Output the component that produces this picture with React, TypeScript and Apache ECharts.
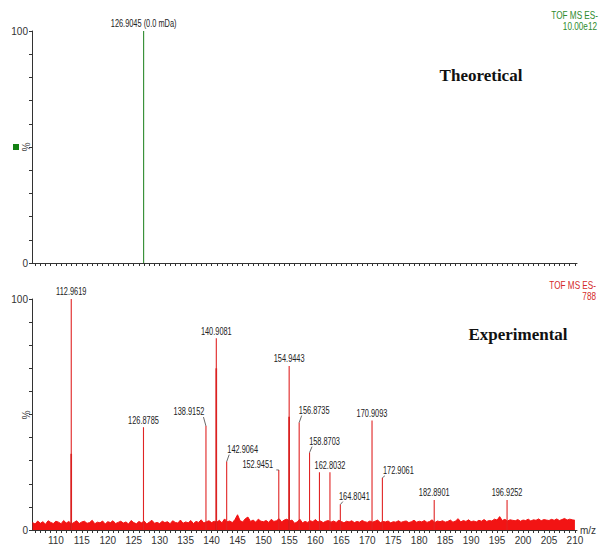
import React, { useEffect, useRef } from "react";
import * as echarts from "echarts";

// ---------- data ----------
const theoMz = [126.9045];
const theoInt = [100];
const theoLabels = ["126.9045 (0.0 mDa)"];

const expMz = [112.9619, 126.8785, 138.9152, 140.9081, 142.9064, 152.9451, 154.9443, 156.8735, 158.8703, 160.78, 162.8032, 164.8041, 170.9093, 172.9061, 182.8901, 196.9252];
const expInt = [100, 44.5, 45, 83, 29.6, 26, 71, 46.5, 33.5, 25, 25, 11, 47.4, 22.6, 13, 13];
const expLabels = ["112.9619", "126.8785", "138.9152", "140.9081", "142.9064", "152.9451", "154.9443", "156.8735", "158.8703", "", "162.8032", "164.8041", "170.9093", "172.9061", "182.8901", "196.9252"];

// overlapping (darker) lower parts of the big peaks
const shoulderMz = [112.9619, 140.9081, 154.9443];
const shoulderInt = [33, 70, 49];

// baseline noise, sampled every 0.5 m/z from 105.5
const noiseStart = 105.5;
const noiseStep = 0.5;
const noiseInt = [
  3.2, 2.6, 3.9, 2.9, 3.6, 2.5, 4.0, 3.3, 2.8, 3.8,
  3.4, 2.7, 4.1, 3.0, 3.7, 2.6, 3.3, 4.0, 2.8, 3.5,
  3.8, 2.9, 3.2, 4.2, 2.7, 3.4, 3.1, 3.9, 2.6, 3.6,
  3.2, 4.0, 2.8, 3.3, 3.8, 3.0, 3.5, 2.6, 4.1, 3.2,
  2.7, 3.7, 3.1, 3.9, 2.6, 3.4, 4.2, 2.9, 3.3, 2.8,
  3.8, 3.2, 3.6, 2.7, 4.0, 3.3, 3.0, 4.3, 2.9, 3.5,
  3.1, 4.1, 2.8, 3.7, 3.3, 4.4, 3.0, 3.6, 4.0, 3.2,
  3.8, 3.4, 4.2, 3.1, 4.8, 3.6, 3.9, 3.2, 4.5, 6.6,
  4.0, 3.5, 4.9, 5.6, 3.7, 4.3, 3.4, 4.7, 3.8, 3.6,
  4.1, 3.3, 4.6, 3.7, 4.0, 4.9, 3.5, 4.3, 4.7, 3.9,
  4.3, 2.9, 3.5, 4.7, 3.1, 3.7, 3.3, 4.0, 3.6, 4.5,
  3.5, 3.9, 3.2, 3.8, 4.1, 3.4, 3.9, 3.3, 4.2, 3.7,
  3.1, 3.8, 3.5, 4.0, 3.2, 3.7, 3.4, 4.1, 3.6, 3.3,
  3.9, 3.4, 3.8, 4.3, 3.2, 3.7, 3.5, 3.9, 3.1, 3.6,
  3.4, 4.0, 3.3, 3.7, 3.9, 3.2, 3.6, 4.2, 3.4, 3.8,
  3.5, 4.1, 3.3, 3.7, 4.4, 3.2, 3.9, 3.6, 4.0, 3.4,
  3.7, 4.3, 3.4, 3.9, 4.9, 3.5, 4.1, 3.7, 4.4, 3.6,
  3.9, 3.5, 4.2, 3.8, 4.5, 3.7, 4.1, 3.9, 4.7, 4.3,
  5.8, 4.1, 4.6, 3.9, 4.4, 4.2, 4.0, 4.5, 3.8, 4.3,
  4.1, 4.7, 3.9, 4.4, 4.2, 4.8, 4.0, 4.5, 4.3, 4.1,
  4.6, 4.2, 4.8, 4.1, 4.5, 5.0, 4.3, 4.7, 4.4, 4.2,
];

const xMin = 105.4;
const xMax = 210.4;
const xLabelValues = [110, 115, 120, 125, 130, 135, 140, 145, 150, 155, 160, 165, 170, 175, 180, 185, 190, 195, 200, 205, 210];
const yLabelValues = [0, 100];

// ---------- layout / style ----------
const SANS = "'Liberation Sans', Arial, sans-serif";
const SERIF = "'Liberation Serif', 'Times New Roman', serif";
const AXIS_COLOR = "#333";
const GREEN = "#2e8b2e";
const RED_TXT = "#d42a2a";
const PEAK_RED = "#e02424";
const CONDENSE = 0.74;

// label offsets [dx, dy] from the peak top, for labels moved aside
const labelOffsets: Record<string, [number, number]> = {
  "138.9152": [-17, -14],
  "142.9064": [16, -12],
  "152.9451": [-21, -5],
  "156.8735": [15, -12],
  "158.8703": [15, -11],
  "164.8041": [14, -8],
  "172.9061": [16, -7],
};

function xTicks(): number[] {
  const t: number[] = [];
  for (let v = 106; v <= 210; v++) t.push(v);
  return t;
}

function peakSeries(
  xAxisIndex: number,
  mz: number[],
  inten: number[],
  labels: string[],
  color: string,
  width: number
) {
  return {
    type: "custom",
    xAxisIndex,
    yAxisIndex: xAxisIndex,
    data: mz.map((m, i) => [m, inten[i], i]),
    z: 5,
    renderItem: (_params: any, api: any) => {
      const m = api.value(0);
      const v = api.value(1);
      const idx = api.value(2);
      const top = api.coord([m, v]);
      const base = api.coord([m, 0]);
      const children: any[] = [
        {
          type: "line",
          shape: { x1: top[0], y1: top[1], x2: base[0], y2: base[1] },
          style: { stroke: color, lineWidth: width },
        },
      ];
      const label = labels[idx];
      if (label) {
        const off = labelOffsets[label] || [0, -7];
        if (off[0] !== 0) {
          const s = off[0] > 0 ? 1 : -1;
          children.push({
            type: "line",
            shape: { x1: top[0], y1: top[1], x2: top[0] + s * 2.5, y2: top[1] + off[1] + 5 },
            style: { stroke: "#444", lineWidth: 0.8 },
          });
        }
        children.push({
          type: "text",
          x: top[0] + off[0],
          y: top[1] + off[1],
          scaleX: CONDENSE,
          style: {
            text: label,
            x: 0,
            y: 0,
            textAlign: "center",
            textVerticalAlign: "middle",
            fill: "#222",
            fontSize: 10,
            fontFamily: SANS,
          },
        });
      }
      return { type: "group", children };
    },
  };
}

function xAxisCfg(gridIndex: number, withLabels: boolean) {
  return {
    type: "value",
    gridIndex,
    min: xMin,
    max: xMax,
    axisLine: { show: true, onZero: false, lineStyle: { color: AXIS_COLOR, width: 1 } },
    axisTick: { show: true, customValues: xTicks(), length: 3, lineStyle: { color: AXIS_COLOR } },
    axisLabel: withLabels
      ? { show: true, customValues: xLabelValues, fontSize: 10, color: "#333", margin: 5, fontFamily: SANS }
      : { show: false },
    splitLine: { show: false },
    name: withLabels ? "m/z" : "",
    nameLocation: "end",
    nameGap: 3,
    nameTextStyle: { fontSize: 10, color: "#333", fontFamily: SANS, verticalAlign: "middle" },
  };
}

function yAxisCfg(gridIndex: number) {
  return {
    type: "value",
    gridIndex,
    min: 0,
    max: 100,
    interval: 10,
    axisLine: { show: true, onZero: false, lineStyle: { color: AXIS_COLOR, width: 1 } },
    axisTick: { show: true, length: 3, lineStyle: { color: AXIS_COLOR } },
    axisLabel: {
      fontSize: 10,
      color: "#333",
      margin: 4,
      fontFamily: SANS,
      formatter: (v: number) => (yLabelValues.includes(v) ? String(v) : ""),
    },
    splitLine: { show: false },
  };
}

function condensedText(x: number, y: number, text: string, fill: string, align: string) {
  return {
    type: "text",
    x,
    y,
    scaleX: CONDENSE + 0.04,
    style: { text, x: 0, y: 0, textAlign: align, textVerticalAlign: "middle", fill, fontSize: 10.5, fontFamily: SANS },
  };
}

export default function App() {
  const ref = useRef<HTMLDivElement>(null);

  useEffect(() => {
    if (!ref.current) return;
    const chart = echarts.init(ref.current, null, { renderer: "svg" });

    const noiseData = noiseInt.map((v, i) => [noiseStart + i * noiseStep, v]);

    const option: any = {
      animation: false,
      backgroundColor: "#fff",
      grid: [
        { left: 32, top: 31, width: 545, height: 232 },
        { left: 32, top: 299, width: 545, height: 231 },
      ],
      xAxis: [xAxisCfg(0, false), xAxisCfg(1, true)],
      yAxis: [yAxisCfg(0), yAxisCfg(1)],
      series: [
        peakSeries(0, theoMz, theoInt, theoLabels, GREEN, 1.1),
        {
          type: "line",
          xAxisIndex: 1,
          yAxisIndex: 1,
          data: noiseData,
          symbol: "none",
          lineStyle: { color: "#f21414", width: 1 },
          areaStyle: { color: "#f21414", opacity: 1 },
          z: 2,
        },
        peakSeries(1, shoulderMz, shoulderInt, [], "#cc1010", 1.6),
        peakSeries(1, expMz, expInt, expLabels, PEAK_RED, 1.1),
      ],
      graphic: [
        condensedText(598, 15, "TOF MS ES-", GREEN, "right"),
        condensedText(597, 26, "10.00e12", GREEN, "right"),
        condensedText(596, 285, "TOF MS ES-", RED_TXT, "right"),
        condensedText(596, 296, "788", RED_TXT, "right"),
        { type: "text", x: 481, y: 75, style: { text: "Theoretical", textAlign: "center", textVerticalAlign: "middle", fill: "#111", font: "bold 17px " + SERIF } },
        { type: "text", x: 518, y: 334, style: { text: "Experimental", textAlign: "center", textVerticalAlign: "middle", fill: "#111", font: "bold 17px " + SERIF } },
        { type: "text", x: 25, y: 147, rotation: -Math.PI / 2, style: { text: "%", textAlign: "center", textVerticalAlign: "middle", fill: "#444", fontSize: 10, fontFamily: SANS } },
        { type: "text", x: 25, y: 415, rotation: -Math.PI / 2, style: { text: "%", textAlign: "center", textVerticalAlign: "middle", fill: "#444", fontSize: 10, fontFamily: SANS } },
        { type: "rect", shape: { x: 13, y: 144, width: 6, height: 6 }, style: { fill: "#128012" } },
      ],
    };

    chart.setOption(option);
    return () => chart.dispose();
  }, []);

  return (
    <div
      ref={ref}
      style={{ position: "fixed", left: 0, top: 0, width: 610, height: 559, background: "#fff" }}
    />
  );
}
